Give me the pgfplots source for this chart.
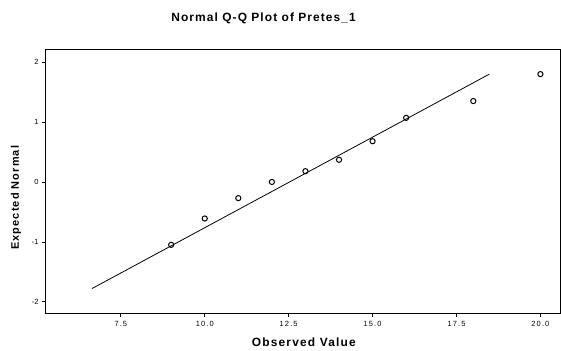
\documentclass[border=0pt]{standalone}
\usepackage{pgfplots}
\pgfplotsset{compat=1.18}
\usepackage{fontspec}
\setmainfont{Liberation Sans}
\begin{document}
\begin{tikzpicture}
\begin{axis}[
  scale only axis,
  width=516bp, height=265bp,
  xmin=5.24, xmax=20.6,
  ymin=-2.2, ymax=2.22,
  axis line style={line width=0.9pt},
  tick align=outside,
  xtick pos=bottom, ytick pos=left,
  major tick length=3bp,
  tick style={line width=0.7pt, black},
  xtick={7.5,10,12.5,15,17.5,20},
  ytick={-2,-1,0,1,2},
  /pgf/number format/assume math mode=true,
  xticklabel style={/pgf/number format/fixed,/pgf/number format/fixed zerofill,/pgf/number format/precision=1, font=\fontsize{7.5}{8}\selectfont\addfontfeature{LetterSpace=15}, yshift=-1bp},
  yticklabel style={font=\fontsize{7.5}{8}\selectfont},
  clip=false,
]
\addplot[black, line width=0.8pt] coordinates {(6.64,-1.78) (18.48,1.80)};
\addplot[only marks, mark=o, mark size=2.6bp, mark options={line width=1pt, black}] coordinates {
(9,-1.05) (10,-0.61) (11,-0.27) (12,0.0) (13,0.18) (14,0.37) (15,0.68) (16,1.07) (18,1.35) (20,1.80)
};
\node[font=\bfseries\fontsize{12}{13}\selectfont\addfontfeature{LetterSpace=9}] at ([yshift=31bp]rel axis cs:0.424,1) {Normal Q-Q Plot of Pretes\_1};
\node[font=\bfseries\fontsize{12}{13}\selectfont\addfontfeature{LetterSpace=10}] at ([yshift=-29bp]rel axis cs:0.502,0) {Observed Value};
\node[font=\bfseries\fontsize{11}{12}\selectfont\addfontfeature{LetterSpace=10}, rotate=90] at ([xshift=-29bp]rel axis cs:0,0.438) {Expected Normal};
\end{axis}
\useasboundingbox (current axis.south west) ++(-45bp,-35bp) rectangle ++(561bp,349bp);
\end{tikzpicture}
\end{document}
